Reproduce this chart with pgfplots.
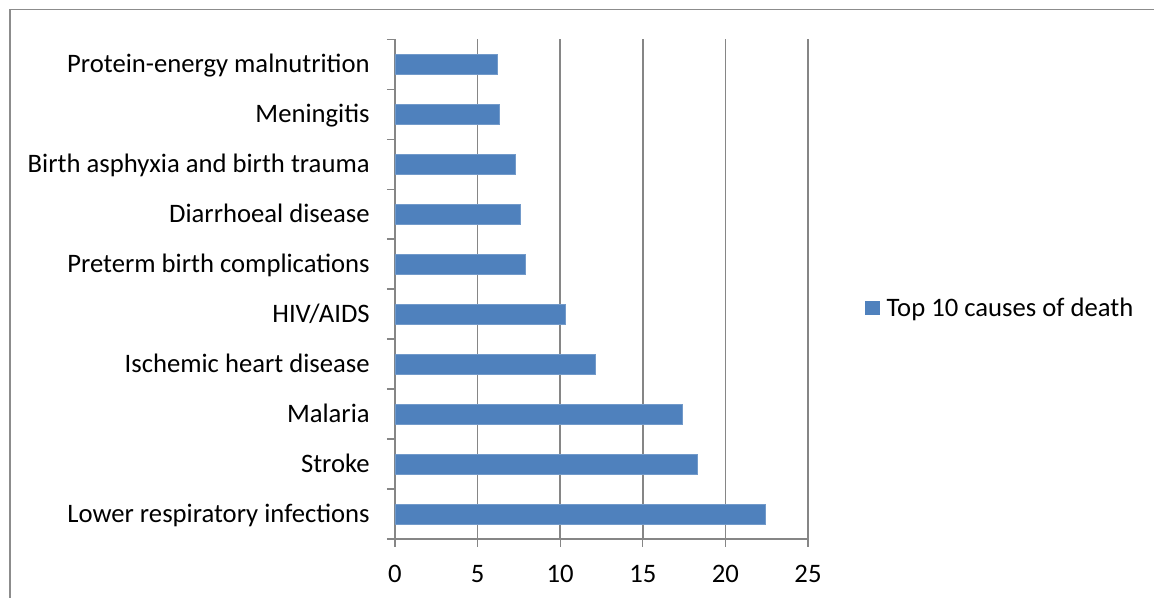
\documentclass[border=0pt]{standalone}
\usepackage{fontspec}
\setmainfont{Carlito}
\usepackage{pgfplots}
\pgfplotsset{compat=1.18}
\definecolor{barblue}{HTML}{4F81BD}
\definecolor{gridgray}{HTML}{868686}
\definecolor{framegray}{HTML}{8C8C8C}
\begin{document}
\begin{tikzpicture}
\useasboundingbox (0,0) rectangle (865.5pt,-448.5pt);
\draw[framegray, line width=0.9pt] (7.5pt,-449pt) -- (7.5pt,-7pt) -- (866pt,-7pt);
\begin{axis}[
  at={(296.25pt,-404.25pt)}, anchor=south west,
  scale only axis, width=309.75pt, height=374.8pt,
  xmin=0, xmax=25, ymin=-0.5, ymax=9.5,
  xbar, bar width=15pt, bar shift=0pt,
  axis lines=left,
  axis line style={-, draw=gridgray, line width=1pt},
  xtick={0,5,10,15,20,25},
  ytick={0,1,2,3,4,5,6,7,8,9},
  yticklabels={Lower respiratory infections, Stroke, Malaria, Ischemic heart disease, HIV/AIDS, Preterm birth complications, Diarrhoeal disease, Birth asphyxia and birth trauma, Meningitis, Protein-energy malnutrition},
  minor ytick={-0.5,0.5,1.5,2.5,3.5,4.5,5.5,6.5,7.5,8.5,9.5},
  tick align=outside,
  major tick length=6pt, minor tick length=6pt,
  major y tick style={draw=none},
  minor y tick style={draw=gridgray, line width=1pt},
  major x tick style={draw=gridgray, line width=1pt},
  xmajorgrids, grid style={draw=gridgray, line width=1.1pt},
  tick label style={font=\fontsize{20}{24}\selectfont},
  /pgf/number format/assume math mode=true,
  yticklabel style={anchor=base east, inner sep=0pt, xshift=-12.8pt, yshift=-6.3pt},
  xticklabel style={anchor=north, inner sep=0pt, yshift=-13.5pt},
  legend style={draw=none, fill=none, at={(1.138,0.4623)}, anchor=west, inner sep=0pt,
    nodes={inner sep=0pt},
    font=\fontsize{20}{24}\selectfont, legend cell align=left},
  legend image code/.code={\fill[barblue, draw=none] (0pt,-5.6pt) rectangle (11.25pt,5.6pt); \path[draw=none, fill=none] (0pt,0pt) rectangle (16pt,0.1pt);},
]
\addplot[fill=barblue, draw=barblue!80!white] coordinates {
  (22.4,0) (18.3,1) (17.4,2) (12.1,3) (10.3,4) (7.9,5) (7.6,6) (7.3,7) (6.3,8) (6.2,9)
};
\addlegendentry{Top 10 causes of death}
\end{axis}
\end{tikzpicture}
\end{document}
